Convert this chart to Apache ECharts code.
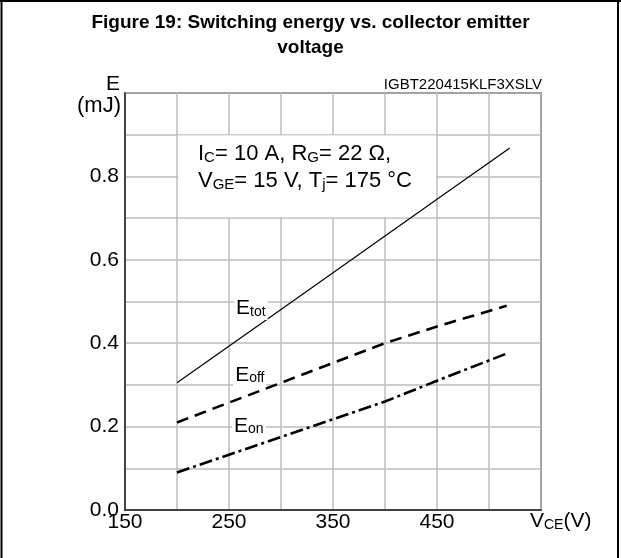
<!DOCTYPE html>
<html>
<head>
<meta charset="utf-8">
<script src="https://cdn.jsdelivr.net/npm/echarts@6/dist/echarts.min.js"></script>
<style>html,body{margin:0;padding:0;background:#fff}#c{width:621px;height:558px}</style>
</head>
<body>
<div id="c"></div>
<script>
const vce = [200, 300, 400, 450, 520];
const eTot = [0.305, 0.481, 0.657, 0.745, 0.868];
const eOffX = [200, 300, 400, 450, 517];
const eOff = [0.21, 0.305, 0.40, 0.44, 0.49];
const eOnX = [200, 300, 400, 450, 519];
const eOn = [0.09, 0.175, 0.26, 0.31, 0.377];
const xTickLabels = [150, 250, 350, 450];
const yTickLabels = [0.0, 0.2, 0.4, 0.6, 0.8];

const FONT = 'Liberation Sans, Arial, sans-serif';
const pair = (xs, ys) => xs.map((x, i) => [x, ys[i]]);
const richMS = {
  m: { fontFamily: FONT, fontSize: 21, color: '#000', fill: '#000', lineHeight: 24, verticalAlign: 'bottom' },
  s: { fontFamily: FONT, fontSize: 14, color: '#000', fill: '#000', lineHeight: 14, verticalAlign: 'bottom' }
};
const curveLabel = (sub) => ({
  show: true, position: 'inside',
  formatter: '{m|E}{s|' + sub + '}',
  backgroundColor: '#fff', padding: [1, 2, 1, 2],
  rich: richMS
});

const chart = echarts.init(document.getElementById('c'));
chart.setOption({
  animation: false,
  title: {
    text: 'Figure 19: Switching energy vs. collector emitter\nvoltage',
    left: 'center', top: 5,
    textStyle: { fontFamily: FONT, fontSize: 19, fontWeight: 'bold', color: '#000', lineHeight: 25 }
  },
  grid: { left: 125, right: 80, top: 93, bottom: 48, show: true, borderColor: '#222', borderWidth: 1.5, backgroundColor: 'transparent' },
  xAxis: {
    type: 'value', min: 150, max: 550, interval: 50,
    axisLine: { show: true, lineStyle: { color: '#222', width: 1.5 } },
    axisTick: { show: false },
    axisLabel: {
      fontFamily: FONT, fontSize: 21, color: '#000', margin: 2,
      formatter: v => xTickLabels.includes(v) ? String(v) : ''
    },
    splitLine: { show: true, lineStyle: { color: '#bdbdbd', width: 1.5 } }
  },
  yAxis: {
    type: 'value', min: 0, max: 1, interval: 0.1,
    axisLine: { show: true, lineStyle: { color: '#222', width: 1.5 } },
    axisTick: { show: false },
    axisLabel: {
      fontFamily: FONT, fontSize: 21, color: '#000', margin: 6, padding: [0, 0, 5, 0],
      formatter: v => yTickLabels.some(t => Math.abs(t - v) < 1e-6) ? v.toFixed(1) : ''
    },
    splitLine: { show: true, lineStyle: { color: '#bdbdbd', width: 1.5 } }
  },
  series: [
    {
      type: 'line', data: [], silent: true,
      markArea: {
        silent: true,
        itemStyle: { color: '#fff', opacity: 1 },
        label: { show: false },
        data: [[{ coord: [201, 0.898] }, { coord: [449, 0.702] }]]
      }
    },
    {
      name: 'Etot', type: 'line', data: pair(vce, eTot), showSymbol: false, symbol: 'none',
      lineStyle: { color: '#000', width: 1.2, type: 'solid' },
      markPoint: { symbol: 'circle', symbolSize: 0, label: curveLabel('tot'), data: [{ coord: [271, 0.487] }] }
    },
    {
      name: 'Eoff', type: 'line', data: pair(eOffX, eOff), showSymbol: false, symbol: 'none',
      lineStyle: { color: '#000', width: 2.6, type: [12, 7] },
      markPoint: { symbol: 'circle', symbolSize: 0, label: curveLabel('off'), data: [{ coord: [270, 0.328] }] }
    },
    {
      name: 'Eon', type: 'line', data: pair(eOnX, eOn), showSymbol: false, symbol: 'none',
      lineStyle: { color: '#000', width: 2.6, type: [13, 4, 3, 4] },
      markPoint: { symbol: 'circle', symbolSize: 0, label: curveLabel('on'), data: [{ coord: [269, 0.205] }] }
    }
  ],
  graphic: [
    { type: 'text', right: 621 - 120, top: 74, style: { text: 'E', font: '21px ' + FONT, fill: '#000' } },
    { type: 'text', right: 621 - 121, top: 95, style: { text: '(mJ)', font: '22px ' + FONT, fill: '#000' } },
    { type: 'text', right: 621 - 542, top: 77, style: { text: 'IGBT220415KLF3XSLV', font: '15px ' + FONT, fill: '#000' } },
    { type: 'text', left: 198, top: 143, z: 10, style: {
        text: '{m|I}{s|C}{m|= 10 A, R}{s|G}{m|= 22 Ω,}\n{m|V}{s|GE}{m|= 15 V, T}{s|j}{m|= 175 °C}',
        rich: {
          m: { fontFamily: FONT, fontSize: 22, fill: '#000', lineHeight: 27, verticalAlign: 'bottom' },
          s: { fontFamily: FONT, fontSize: 15, fill: '#000', lineHeight: 17, verticalAlign: 'bottom' }
        } } },
    { type: 'text', left: 530, top: 511, style: { text: '{m|V}{s|CE}{m|(V)}', rich: richMS } },
    { type: 'line', shape: { x1: 1.5, y1: 0, x2: 1.5, y2: 558 }, style: { stroke: '#000', lineWidth: 2 } },
    { type: 'line', shape: { x1: 618, y1: 0, x2: 618, y2: 558 }, style: { stroke: '#000', lineWidth: 2 } },
    { type: 'line', shape: { x1: 0, y1: 1, x2: 621, y2: 1 }, style: { stroke: '#000', lineWidth: 2 } }
  ]
});
</script>
</body>
</html>
